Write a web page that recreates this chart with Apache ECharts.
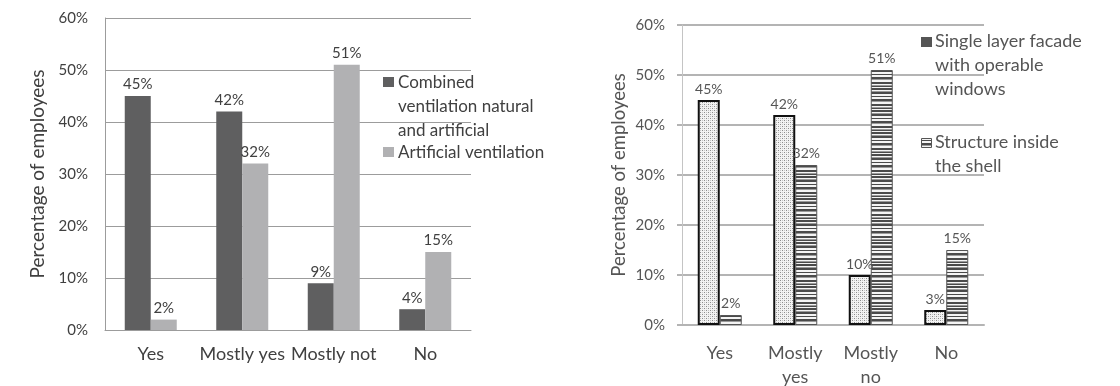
<!DOCTYPE html>
<html>
<head>
<meta charset="utf-8">
<script src="https://cdn.jsdelivr.net/npm/echarts@6/dist/echarts.min.js"></script>
<style>
  html, body { margin: 0; padding: 0; background: #ffffff; }
  #chart { width: 1120px; height: 386px; }
</style>
</head>
<body>
<div id="chart"></div>
<script>
// ---- data ----
const categoriesLeft = ['Yes', 'Mostly yes', 'Mostly not', 'No'];
const combinedVentilation = [45, 42, 9, 4];
const artificialVentilation = [2, 32, 51, 15];
const seriesNamesLeft = ['Combined\nventilation natural\nand artificial', 'Artificial ventilation'];

const categoriesRight = ['Yes', 'Mostly\nyes', 'Mostly\nno', 'No'];
const singleLayerFacade = [45, 42, 10, 3];
const structureInsideShell = [2, 32, 51, 15];
const seriesNamesRight = ['Single layer facade\nwith operable\nwindows', 'Structure inside\nthe shell'];

const yAxisTitle = 'Percentage of employees';

// ---- patterns ----
function makeDots() {
  const c = document.createElement('canvas');
  c.width = 4; c.height = 4;
  const g = c.getContext('2d');
  g.fillStyle = '#f3f3f3'; g.fillRect(0, 0, 4, 4);
  g.fillStyle = '#8c8c8c';
  g.fillRect(0, 0, 1, 1); g.fillRect(2, 2, 1, 1);
  g.fillStyle = '#c6c6c6';
  g.fillRect(2, 0, 1, 1); g.fillRect(0, 2, 1, 1);
  return c;
}
function makeStripes() {
  const c = document.createElement('canvas');
  c.width = 4; c.height = 22;
  const g = c.getContext('2d');
  g.fillStyle = '#f4f4f4'; g.fillRect(0, 0, 4, 22);
  g.fillStyle = '#4a4a4a';
  [[0, 2], [4, 2], [8, 1], [11, 2], [16, 2], [20, 1]].forEach(function (r) { g.fillRect(0, r[0], 4, r[1]); });
  g.fillStyle = '#9a9a9a';
  [[3, 1], [13, 1], [19, 1]].forEach(function (r) { g.fillRect(0, r[0], 4, r[1]); });
  return c;
}
const dotPattern = { image: makeDots(), repeat: 'repeat' };
const stripePattern = { image: makeStripes(), repeat: 'repeat' };

const chart = echarts.init(document.getElementById('chart'), null, { renderer: 'canvas' });

const fontL = 'Lato, "Open Sans", sans-serif';
const txtL = '#404040';
const txtR = '#555555';

const option = {
  backgroundColor: '#ffffff',
  animation: false,
  grid: [
    { left: 105, top: 18, width: 366, height: 312, outerBoundsMode: 'none', containLabel: false },
    { left: 682, top: 25, width: 302, height: 300, outerBoundsMode: 'none', containLabel: false }
  ],
  xAxis: [
    {
      gridIndex: 0, type: 'category', data: categoriesLeft,
      axisLine: { show: true, lineStyle: { color: '#9c9c9c' } }, axisTick: { show: false },
      axisLabel: { fontFamily: fontL, fontSize: 18, color: txtL, margin: 15, interval: 0 }
    },
    {
      gridIndex: 1, type: 'category', data: categoriesRight,
      axisLine: { show: true, lineStyle: { color: '#b4b4b4', width: 2 } }, axisTick: { show: false },
      axisLabel: { fontFamily: fontL, fontSize: 18, color: txtR, margin: 16, interval: 0, lineHeight: 24 }
    }
  ],
  yAxis: [
    {
      gridIndex: 0, type: 'value', min: 0, max: 60, interval: 10,
      name: yAxisTitle, nameLocation: 'middle', nameGap: 58, nameRotate: 90,
      nameTextStyle: { fontFamily: fontL, fontSize: 19, color: txtL },
      axisLine: { show: true, lineStyle: { color: '#9c9c9c', width: 1 } },
      axisTick: { show: false },
      axisLabel: { formatter: '{value}%', fontFamily: fontL, fontSize: 15, color: txtL, margin: 17 },
      splitLine: { show: true, lineStyle: { color: '#9c9c9c', width: 1 } }
    },
    {
      gridIndex: 1, type: 'value', min: 0, max: 60, interval: 10,
      name: yAxisTitle, nameLocation: 'middle', nameGap: 53, nameRotate: 90,
      nameTextStyle: { fontFamily: fontL, fontSize: 18.5, color: txtR },
      axisLine: { show: true, lineStyle: { color: '#c4c4c4', width: 1 } },
      axisTick: { show: true, length: 5, lineStyle: { color: '#b4b4b4', width: 2 } },
      axisLabel: { formatter: '{value}%', fontFamily: fontL, fontSize: 15, color: txtR, margin: 17 },
      splitLine: { show: true, lineStyle: { color: '#b4b4b4', width: 2 } }
    }
  ],
  series: [
    {
      name: seriesNamesLeft[0], type: 'bar', xAxisIndex: 0, yAxisIndex: 0,
      data: combinedVentilation, barWidth: 26, barGap: '0%',
      itemStyle: { color: '#5f5f60' },
      label: { show: true, position: 'top', distance: 4, formatter: '{c}%', fontFamily: fontL, fontSize: 15, color: txtL }
    },
    {
      name: seriesNamesLeft[1], type: 'bar', xAxisIndex: 0, yAxisIndex: 0,
      data: artificialVentilation, barWidth: 26, barGap: '0%',
      itemStyle: { color: '#b1b1b3' },
      label: { show: true, position: 'top', distance: 4, formatter: '{c}%', fontFamily: fontL, fontSize: 15, color: txtL }
    },
    {
      name: seriesNamesRight[0], type: 'bar', xAxisIndex: 1, yAxisIndex: 1,
      data: singleLayerFacade, barWidth: 22, barGap: '0%',
      itemStyle: { color: dotPattern, borderColor: '#111111', borderWidth: 2 },
      label: { show: true, position: 'top', distance: 4, formatter: '{c}%', fontFamily: fontL, fontSize: 14, color: txtR }
    },
    {
      name: seriesNamesRight[1], type: 'bar', xAxisIndex: 1, yAxisIndex: 1,
      data: structureInsideShell, barWidth: 22, barGap: '0%',
      itemStyle: { color: stripePattern, borderColor: '#555555', borderWidth: 1 },
      label: { show: true, position: 'top', distance: 5, formatter: '{c}%', fontFamily: fontL, fontSize: 14, color: txtR }
    }
  ],
  graphic: [
    // left legend
    { type: 'rect', shape: { x: 383, y: 77, width: 11, height: 10 }, style: { fill: '#5f5f60' } },
    { type: 'text', x: 398, y: 70, style: { text: seriesNamesLeft[0], font: '17px ' + fontL, fill: txtL, lineHeight: 24.3, verticalAlign: 'top' } },
    { type: 'rect', shape: { x: 383, y: 147, width: 11, height: 10 }, style: { fill: '#b1b1b3' } },
    { type: 'text', x: 398, y: 140, style: { text: seriesNamesLeft[1], font: '17px ' + fontL, fill: txtL, lineHeight: 24.3, verticalAlign: 'top' } },
    // right legend
    { type: 'rect', shape: { x: 921, y: 37, width: 11, height: 10 }, style: { fill: '#555555' } },
    { type: 'text', x: 935, y: 29.5, style: { text: seriesNamesRight[0], font: '18px ' + fontL, fill: txtR, lineHeight: 24, verticalAlign: 'top' } },
    { type: 'rect', shape: { x: 921.5, y: 138.5, width: 10, height: 9 }, style: { fill: stripePattern, stroke: '#555555', lineWidth: 1 } },
    { type: 'text', x: 935, y: 130.5, style: { text: seriesNamesRight[1], font: '18px ' + fontL, fill: txtR, lineHeight: 24, verticalAlign: 'top' } }
  ]
};
chart.setOption(option);
</script>
</body>
</html>
